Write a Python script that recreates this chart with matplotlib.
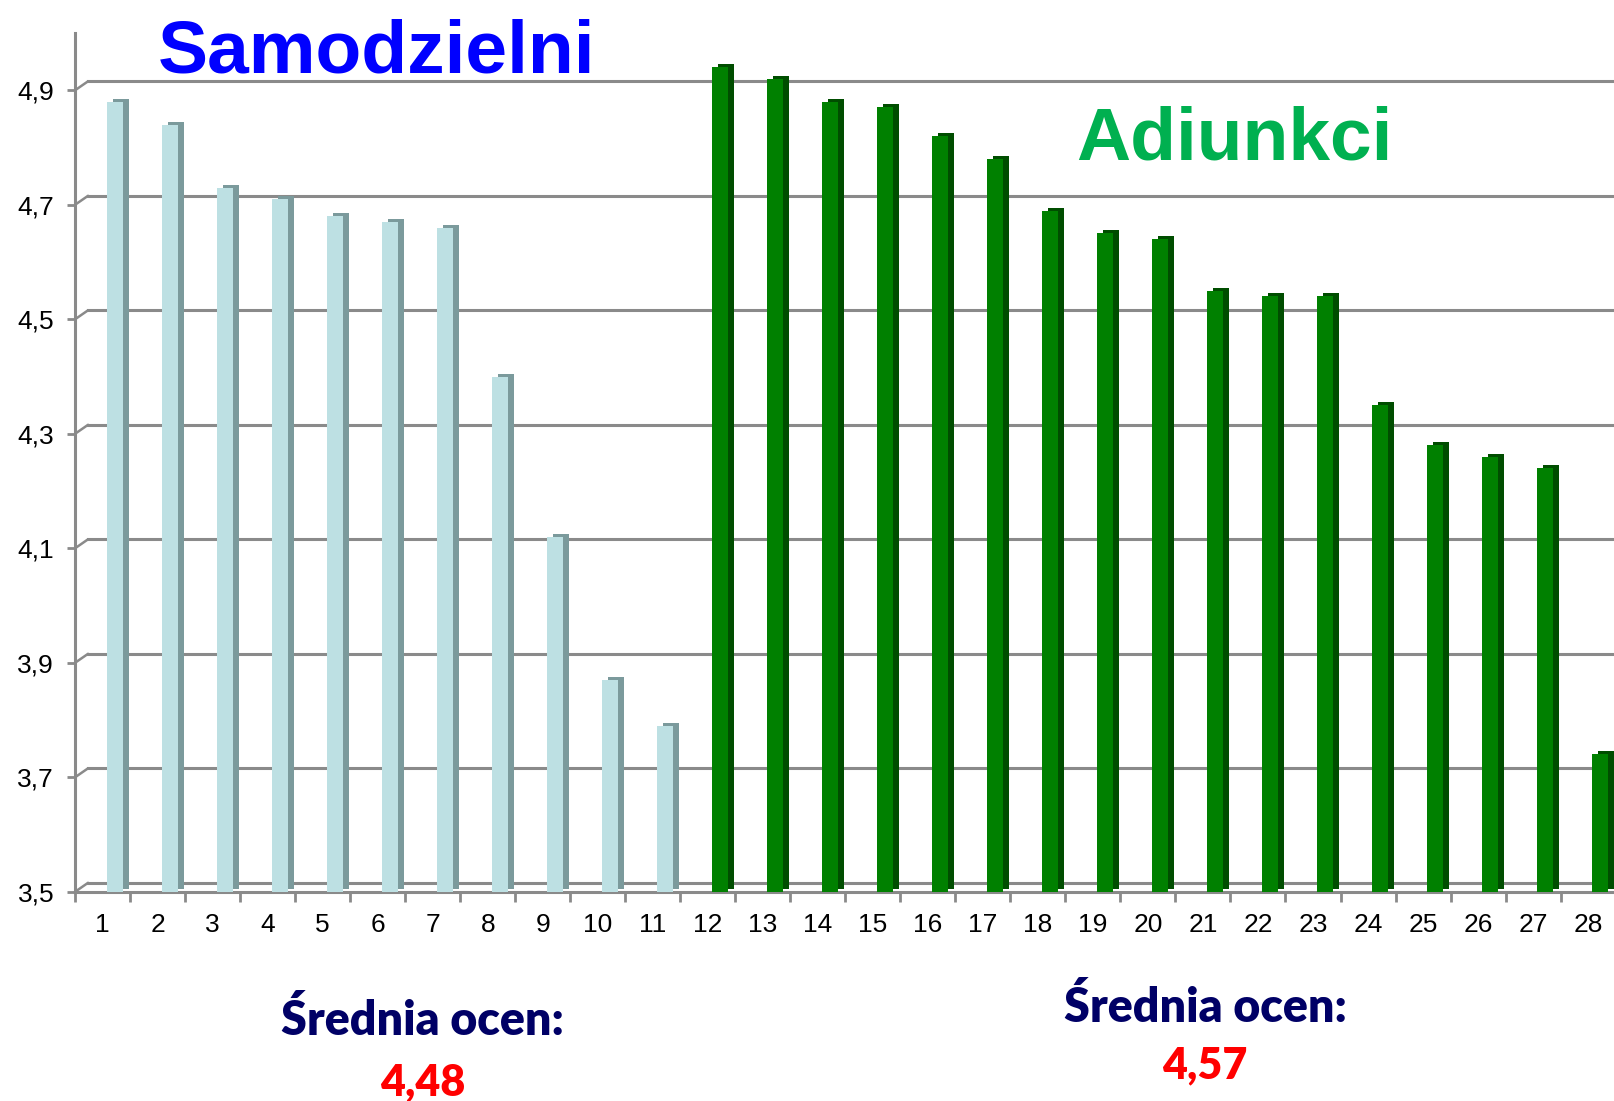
import matplotlib
matplotlib.use("Agg")
import matplotlib.pyplot as plt
import matplotlib.transforms as mtransforms
import numpy as np

# dane
kategorie = list(range(1, 29))
samodzielni = [4.88, 4.84, 4.73, 4.71, 4.68, 4.67, 4.66, 4.40, 4.12, 3.87, 3.79]
adiunkci = [4.94, 4.92, 4.88, 4.87, 4.82, 4.78, 4.69, 4.65, 4.64, 4.55, 4.54,
            4.54, 4.35, 4.28, 4.26, 4.24, 3.74]
y_ticks = [3.5, 3.7, 3.9, 4.1, 4.3, 4.5, 4.7, 4.9]
y_labels = ["3,5", "3,7", "3,9", "4,1", "4,3", "4,5", "4,7", "4,9"]
srednia_s = "4,48"
srednia_a = "4,57"

plt.rcParams['font.family'] = ['Liberation Sans', 'DejaVu Sans']

fig = plt.figure(figsize=(16.14, 11.01), dpi=100)
ax = fig.add_axes([0.0465, 0.19, 0.9545, 0.78])
ax.set_xlim(0.5, 28.5)
ax.set_ylim(3.5, 5.0)

szary = '#8a8a8a'
dpt = fig.dpi_scale_trans
# siatka na tylnej scianie (przesunieta w gore i w prawo)
back = mtransforms.ScaledTranslation(0, 9 / 100, dpt)
for v in y_ticks:
    ax.plot([0.0085, 1], [v, v], transform=ax.get_yaxis_transform() + back,
            color=szary, lw=2.2, zorder=1, clip_on=False)
    ax.annotate('', xy=(0, v), xycoords=ax.get_yaxis_transform(),
                xytext=(13 * 0.72, 9 * 0.72), textcoords='offset points',
                arrowprops=dict(arrowstyle='-', color=szary, lw=1.8,
                                shrinkA=0, shrinkB=0), zorder=1)

x = np.array(kategorie) + 0.22
n_s = len(samodzielni)
vals = np.array(samodzielni + adiunkci)
front = ['#bde0e3'] * n_s + ['#008000'] * len(adiunkci)
side = ['#7b9a9c'] * n_s + ['#004d00'] * len(adiunkci)

bok = mtransforms.ScaledTranslation(6 / 100, 3 / 100, dpt)
ax.bar(x, vals - 3.5, bottom=3.5, width=0.29, color=side,
       transform=ax.transData + bok, zorder=2)
ax.bar(x, vals - 3.5, bottom=3.5, width=0.29, color=front, zorder=3)

for s in ['top', 'right']:
    ax.spines[s].set_visible(False)
for s in ['left', 'bottom']:
    ax.spines[s].set_color(szary)
    ax.spines[s].set_linewidth(2.2)

ax.set_yticks(y_ticks)
ax.set_yticklabels(y_labels)
ax.tick_params(axis='y', length=6, width=2, color=szary, labelsize=19, pad=9)
ax.set_xticks(kategorie)
ax.set_xticklabels([str(k) for k in kategorie])
ax.set_xticks(np.arange(0.5, 28.6, 1), minor=True)
ax.tick_params(axis='x', which='major', length=0, labelsize=19, pad=15)
ax.tick_params(axis='x', which='minor', length=7, width=2, color=szary)

fig.text(0.2336, 0.9346, "Samodzielni", color='#0000ff', fontsize=54,
         fontweight='bold', ha='center', va='baseline')
fig.text(0.7647, 0.855, "Adiunkci", color='#00b050', fontsize=54,
         fontweight='bold', ha='center', va='baseline')

for xc, yb, yv, sr in [(0.262, 0.060, 0.0054, srednia_s),
                       (0.7466, 0.0718, 0.0209, srednia_a)]:
    fig.text(xc, yb, "Średnia ocen:", color='#000066', fontsize=33.5,
             fontweight='heavy', ha='center', va='baseline',
             family=['Lato', 'DejaVu Sans'])
    fig.text(xc, yv, sr, color='#ff0000', fontsize=31,
             fontweight='heavy', ha='center', va='baseline',
             family=['Lato', 'DejaVu Sans'])

fig.savefig("out.png", dpi=100)
